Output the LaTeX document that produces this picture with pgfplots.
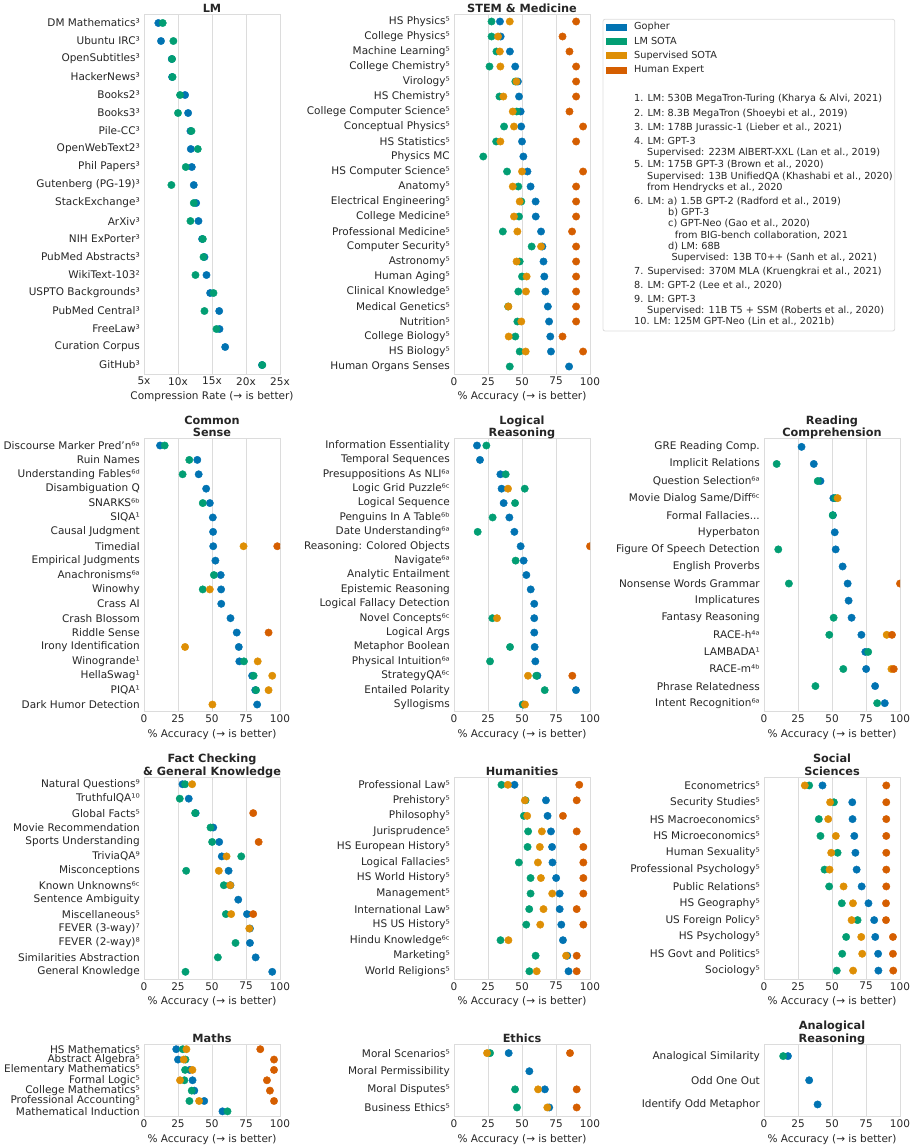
\documentclass[border=0pt]{standalone}
\usepackage{fontspec}
\setmainfont{DejaVu Sans}
\usepackage{pgfplots}
\usepackage{pgfplotstable}
\pgfplotsset{compat=1.18}
\definecolor{cg}{HTML}{0173B2}
\definecolor{cl}{HTML}{029E73}
\definecolor{cs}{HTML}{DE8F05}
\definecolor{ch}{HTML}{D55E00}
\definecolor{framec}{HTML}{DCDCDC}
\definecolor{txt}{HTML}{262626}
\newcommand\tfont{\fontsize{10.5bp}{12.6bp}\selectfont}
\newcommand\ttlfont{\bfseries\fontsize{11.3bp}{12.2bp}\selectfont}
\newcommand\lgfont{\fontsize{9.7bp}{11.4bp}\selectfont}

\pgfplotsset{
 dg/.style={only marks, mark=*, mark size=3.7bp, mark options={draw=cg, fill=cg}},
 dl/.style={only marks, mark=*, mark size=3.7bp, mark options={draw=cl, fill=cl}},
 ds/.style={only marks, mark=*, mark size=3.7bp, mark options={draw=cs, fill=cs}},
 dh/.style={only marks, mark=*, mark size=3.7bp, mark options={draw=ch, fill=ch}},
 panel/.style={scale only axis, width=136bp, anchor=south west,
   xmin=0, xmax=100, xtick={0,25,50,75,100},
   xmajorgrids, grid style={draw=framec, line width=0.8bp},
   axis line style={draw=framec, line width=0.8bp},
   major tick length=0pt, y dir=reverse,
   tick label style={font=\tfont, text=txt},
   /pgf/number format/assume math mode=true,
   yticklabel style={inner sep=0pt, xshift=-4bp},
   xticklabel style={inner sep=0pt, yshift=-3bp},
   xlabel={\% Accuracy (→ is better)},
   xlabel style={font=\tfont, text=txt, at={(axis description cs:0.5,0)}, anchor=mid, yshift=-23bp},
   title style={font=\ttlfont, text=txt, at={(0.5,1)}, anchor=south, inner sep=0pt, text depth=0pt, yshift=-4.2bp, align=center},
   clip marker paths=true},
}

\pgfplotstableread{
r g l
0 7.11 7.75
1 7.50 9.32
2 9.08 9.13
3 9.13 9.20
4 11.04 10.30
5 11.49 10.00
6 11.83 11.98
7 11.88 12.91
8 12.03 11.14
9 12.32 9.03
10 12.67 12.32
11 13.01 11.83
12 13.55 13.65
13 13.89 13.75
14 14.19 12.57
15 14.73 15.22
16 16.06 13.89
17 16.10 15.66
18 16.94 nan
19 22.35 22.40
}\tLM

\pgfplotstableread{
r g l s h
0 33.8 27.6 41.0 89.8
1 34.3 27.6 32.4 79.8
2 41.1 31.2 33.7 84.9
3 45.0 26.1 34.1 89.8
4 47.0 45.1 45.9 89.8
5 47.8 33.4 36.3 89.8
6 49.0 46.1 43.2 84.9
7 49.4 36.8 44.1 94.9
8 50.0 31.0 34.1 89.8
9 51.0 21.5 nan nan
10 54.0 39.0 50.0 94.9
11 56.3 47.3 43.2 89.8
12 60.0 49.5 48.3 89.8
13 60.1 47.8 44.1 89.8
14 64.0 35.9 46.6 86.8
15 65.0 57.1 64.0 89.8
16 65.8 48.3 46.0 89.8
17 66.4 50.0 53.4 89.8
18 67.2 47.3 52.9 89.8
19 69.0 39.8 40.0 89.8
20 69.9 46.6 49.5 89.8
21 70.8 45.1 40.2 79.8
22 71.3 48.3 52.7 94.9
23 84.6 41.0 nan nan
}\tSTEM

\pgfplotstableread{
r g l s h
0 11.8 15.2 nan nan
1 39.2 33.3 nan nan
2 40.2 28.4 nan nan
3 45.7 nan nan nan
4 48.4 43.2 nan nan
5 50.6 nan nan nan
6 50.8 nan nan nan
7 50.9 nan 73.2 98.0
8 52.5 nan nan nan
9 56.4 51.4 nan nan
10 56.7 43.2 48.4 nan
11 56.8 nan nan nan
12 63.6 nan nan nan
13 68.2 nan nan 91.6
14 69.7 nan 30.2 nan
15 70.1 73.5 83.6 nan
16 79.5 80.6 94.3 nan
17 81.8 82.4 91.6 nan
18 83.2 nan 50.3 nan
}\tCS

\pgfplotstableread{
r g l s h
0 16.9 23.8 nan nan
1 19.1 nan nan nan
2 34.1 38.0 nan nan
3 35.0 52.0 39.7 nan
4 36.5 44.9 nan nan
5 40.7 28.4 nan nan
6 44.4 17.4 nan nan
7 49.0 nan nan 100
8 51.2 45.3 nan nan
9 53.2 nan nan nan
10 56.4 nan nan nan
11 59.0 nan nan nan
12 59.0 28.2 31.6 nan
13 59.0 nan nan nan
14 59.3 41.2 nan nan
15 59.8 26.5 nan nan
16 61.3 60.5 54.4 87.0
17 89.7 66.7 nan nan
18 50.5 51.0 52.2 nan
}\tLR

\pgfplotstableread{
r g l s h
0 27.6 nan nan nan
1 36.6 9.3 nan nan
2 41.5 39.5 nan nan
3 51.0 52.4 54.1 nan
4 50.7 50.5 nan nan
5 52.0 nan nan nan
6 52.7 10.5 nan nan
7 57.8 nan nan nan
8 61.5 18.3 nan 100
9 62.2 nan nan nan
10 64.4 51.2 nan nan
11 71.6 48.0 90.2 94.1
12 74.5 76.6 nan nan
13 75.1 58.3 93.7 95.4
14 81.7 37.8 nan nan
15 88.8 83.2 nan nan
}\tRC

\pgfplotstableread{
r g l s h
0 28.3 30.2 35.4 nan
1 32.9 26.3 nan nan
2 38.0 37.6 nan 80.3
3 50.9 48.9 nan nan
4 55.3 50.1 nan 84.3
5 57.2 71.5 60.7 nan
6 62.2 31.0 55.0 nan
7 63.6 58.7 63.4 nan
8 69.3 nan nan nan
9 75.7 60.2 64.1 80.3
10 77.9 nan 77.4 nan
11 77.9 67.3 nan nan
12 82.1 54.3 nan nan
13 94.3 30.5 nan nan
}\tFC

\pgfplotstableread{
r g l s h
0 44.5 34.9 39.6 92.1
1 67.6 52.6 52.1 90.2
2 68.8 51.4 53.8 80.1
3 71.3 54.5 64.6 90.2
4 72.1 54.1 63.1 95.1
5 72.4 47.7 61.7 95.1
6 75.1 56.3 63.9 95.1
7 77.7 56.3 72.2 95.1
8 77.7 55.3 65.8 90.2
9 78.9 53.1 63.4 95.1
10 80.1 34.2 40.0 nan
11 83.3 60.0 82.4 90.2
12 84.2 55.4 60.8 90.2
}\tHU

\pgfplotstableread{
r g l s h
0 43.0 33.2 30.0 89.9
1 64.9 51.4 48.6 89.9
2 65.1 40.3 47.2 89.9
3 66.4 41.5 52.8 89.9
4 67.2 54.1 49.4 89.9
5 68.1 44.5 48.2 89.9
6 71.8 47.9 58.5 89.9
7 76.8 57.2 65.4 89.7
8 81.0 68.8 64.4 89.7
9 81.8 60.4 71.5 94.8
10 83.9 57.5 72.2 94.8
11 84.1 53.5 65.5 95.0
}\tSS

\pgfplotstableread{
r g l s h
0 23.7 28.5 31.2 85.5
1 25.0 30.5 29.2 95.6
2 33.6 30.2 35.6 95.6
3 35.7 29.7 26.5 90.4
4 37.0 35.1 nan 92.6
5 44.3 33.4 40.5 95.6
6 57.7 61.4 nan nan
}\tMA

\pgfplotstableread{
r g l s h
0 40.2 26.5 24.3 85.3
1 55.4 nan nan nan
2 66.8 44.9 61.8 90.2
3 70.0 46.3 68.6 90.2
}\tET

\pgfplotstableread{
r g l
0 17.6 14.1
1 33.2 nan
2 39.4 nan
}\tAR

\begin{document}
\begin{tikzpicture}[x=1bp,y=1bp]

% ---------- LM ----------
\begin{axis}[panel, at={(144bp,-374bp)}, height=360bp, title={LM},
  xmin=5, xmax=25, xtick={5,10,15,20,25}, xticklabels={5x,10x,15x,20x,25x},
  xlabel={Compression Rate (→ is better)},
  ymin=-0.5, ymax=19.5, ytick={0,...,19},
  yticklabels={DM Mathematics³,Ubuntu IRC³,OpenSubtitles³,HackerNews³,Books2³,Books3³,Pile-CC³,OpenWebText2³,Phil Papers³,Gutenberg (PG-19)³,StackExchange³,ArXiv³,NIH ExPorter³,PubMed Abstracts³,WikiText-103²,USPTO Backgrounds³,PubMed Central³,FreeLaw³,Curation Corpus,GitHub³}]
\addplot[dg] table[x=g,y=r]{\tLM};
\addplot[dl] table[x=l,y=r]{\tLM};
\end{axis}

% ---------- STEM ----------
\begin{axis}[panel, at={(454bp,-374bp)}, height=360bp, title={STEM \& Medicine},
  ymin=-0.5, ymax=23.5, ytick={0,...,23},
  yticklabels={HS Physics⁵,College Physics⁵,Machine Learning⁵,College Chemistry⁵,Virology⁵,HS Chemistry⁵,College Computer Science⁵,Conceptual Physics⁵,HS Statistics⁵,Physics MC,HS Computer Science⁵,Anatomy⁵,Electrical Engineering⁵,College Medicine⁵,Professional Medicine⁵,Computer Security⁵,Astronomy⁵,Human Aging⁵,Clinical Knowledge⁵,Medical Genetics⁵,Nutrition⁵,College Biology⁵,HS Biology⁵,Human Organs Senses}]
\addplot[dg] table[x=g,y=r]{\tSTEM};
\addplot[dl] table[x=l,y=r]{\tSTEM};
\addplot[ds] table[x=s,y=r]{\tSTEM};
\addplot[dh] table[x=h,y=r]{\tSTEM};
\end{axis}

% ---------- Common Sense ----------
\begin{axis}[panel, at={(144bp,-711.7bp)}, height=273.4bp, title={Common\\Sense},
  ymin=-0.5, ymax=18.5, ytick={0,...,18},
  yticklabels={Discourse Marker Pred'n⁶ᵃ,Ruin Names,Understanding Fables⁶ᵈ,Disambiguation Q,SNARKS⁶ᵇ,SIQA¹,Causal Judgment,Timedial,Empirical Judgments,Anachronisms⁶ᵃ,Winowhy,Crass AI,Crash Blossom,Riddle Sense,Irony Identification,Winogrande¹,HellaSwag¹,PIQA¹,Dark Humor Detection}]
\addplot[dg] table[x=g,y=r]{\tCS};
\addplot[dl] table[x=l,y=r]{\tCS};
\addplot[ds] table[x=s,y=r]{\tCS};
\addplot[dh] table[x=h,y=r]{\tCS};
\end{axis}

% ---------- Logical Reasoning ----------
\begin{axis}[panel, at={(454bp,-711.7bp)}, height=273.4bp, title={Logical\\Reasoning},
  ymin=-0.5, ymax=18.5, ytick={0,...,18},
  yticklabels={Information Essentiality,Temporal Sequences,Presuppositions As NLI⁶ᵃ,Logic Grid Puzzle⁶ᶜ,Logical Sequence,Penguins In A Table⁶ᵇ,Date Understanding⁶ᵃ,Reasoning: Colored Objects,Navigate⁶ᵃ,Analytic Entailment,Epistemic Reasoning,Logical Fallacy Detection,Novel Concepts⁶ᶜ,Logical Args,Metaphor Boolean,Physical Intuition⁶ᵃ,StrategyQA⁶ᶜ,Entailed Polarity,Syllogisms}]
\addplot[dg] table[x=g,y=r]{\tLR};
\addplot[dl] table[x=l,y=r]{\tLR};
\addplot[ds] table[x=s,y=r]{\tLR};
\addplot[dh] table[x=h,y=r]{\tLR};
\end{axis}

% ---------- Reading Comprehension ----------
\begin{axis}[panel, at={(764bp,-711.7bp)}, height=273.4bp, title={Reading\\Comprehension},
  ymin=-0.5, ymax=15.5, ytick={0,...,15},
  yticklabels={GRE Reading Comp.,Implicit Relations,Question Selection⁶ᵃ,Movie Dialog Same/Diff⁶ᶜ,{Formal Fallacies..{}.},Hyperbaton,Figure Of Speech Detection,English Proverbs,Nonsense Words Grammar,Implicatures,Fantasy Reasoning,RACE-h⁴ᵃ,LAMBADA¹,RACE-m⁴ᵇ,Phrase Relatedness,Intent Recognition⁶ᵃ}]
\addplot[dg] table[x=g,y=r]{\tRC};
\addplot[dl] table[x=l,y=r]{\tRC};
\addplot[ds] table[x=s,y=r]{\tRC};
\addplot[dh] table[x=h,y=r]{\tRC};
\end{axis}

% ---------- Fact Checking ----------
\begin{axis}[panel, at={(144bp,-979bp)}, height=202bp, title={Fact Checking\\\& General Knowledge},
  ymin=-0.5, ymax=13.5, ytick={0,...,13},
  yticklabels={Natural Questions⁹,TruthfulQA¹⁰,Global Facts⁵,Movie Recommendation,Sports Understanding,TriviaQA⁹,Misconceptions,Known Unknowns⁶ᶜ,Sentence Ambiguity,Miscellaneous⁵,FEVER (3-way)⁷,FEVER (2-way)⁸,Similarities Abstraction,General Knowledge}]
\addplot[dg] table[x=g,y=r]{\tFC};
\addplot[dl] table[x=l,y=r]{\tFC};
\addplot[ds] table[x=s,y=r]{\tFC};
\addplot[dh] table[x=h,y=r]{\tFC};
\end{axis}

% ---------- Humanities ----------
\begin{axis}[panel, at={(454bp,-979bp)}, height=202bp, title={Humanities},
  ymin=-0.5, ymax=12.5, ytick={0,...,12},
  yticklabels={Professional Law⁵,Prehistory⁵,Philosophy⁵,Jurisprudence⁵,HS European History⁵,Logical Fallacies⁵,HS World History⁵,Management⁵,International Law⁵,HS US History⁵,Hindu Knowledge⁶ᶜ,Marketing⁵,World Religions⁵}]
\addplot[dg] table[x=g,y=r]{\tHU};
\addplot[dl] table[x=l,y=r]{\tHU};
\addplot[ds] table[x=s,y=r]{\tHU};
\addplot[dh] table[x=h,y=r]{\tHU};
\end{axis}

% ---------- Social Sciences ----------
\begin{axis}[panel, at={(764bp,-979bp)}, height=202bp, title={Social\\Sciences},
  ymin=-0.5, ymax=11.5, ytick={0,...,11},
  yticklabels={Econometrics⁵,Security Studies⁵,HS Macroeconomics⁵,HS Microeconomics⁵,Human Sexuality⁵,Professional Psychology⁵,Public Relations⁵,HS Geography⁵,US Foreign Policy⁵,HS Psychology⁵,HS Govt and Politics⁵,Sociology⁵}]
\addplot[dg] table[x=g,y=r]{\tSS};
\addplot[dl] table[x=l,y=r]{\tSS};
\addplot[ds] table[x=s,y=r]{\tSS};
\addplot[dh] table[x=h,y=r]{\tSS};
\end{axis}

% ---------- Maths ----------
\begin{axis}[panel, at={(144bp,-1116.5bp)}, height=72.5bp, title={Maths},
  ymin=-0.5, ymax=6.5, ytick={0,...,6},
  yticklabels={HS Mathematics⁵,Abstract Algebra⁵,Elementary Mathematics⁵,Formal Logic⁵,College Mathematics⁵,Professional Accounting⁵,Mathematical Induction}]
\addplot[dg] table[x=g,y=r]{\tMA};
\addplot[dl] table[x=l,y=r]{\tMA};
\addplot[ds] table[x=s,y=r]{\tMA};
\addplot[dh] table[x=h,y=r]{\tMA};
\end{axis}

% ---------- Ethics ----------
\begin{axis}[panel, at={(454bp,-1116.5bp)}, height=72.5bp, title={Ethics},
  ymin=-0.5, ymax=3.5, ytick={0,...,3},
  yticklabels={Moral Scenarios⁵,Moral Permissibility,Moral Disputes⁵,Business Ethics⁵}]
\addplot[dg] table[x=g,y=r]{\tET};
\addplot[dl] table[x=l,y=r]{\tET};
\addplot[ds] table[x=s,y=r]{\tET};
\addplot[dh] table[x=h,y=r]{\tET};
\end{axis}

% ---------- Analogical ----------
\begin{axis}[panel, at={(764bp,-1116.5bp)}, height=72.5bp, title={Analogical\\Reasoning},
  ymin=-0.5, ymax=2.5, ytick={0,...,2},
  yticklabels={Analogical Similarity,Odd One Out,Identify Odd Metaphor}]
\addplot[dg] table[x=g,y=r]{\tAR};
\addplot[dl] table[x=l,y=r]{\tAR};
\end{axis}

% ---------- Legend ----------
\draw[framec, line width=0.8bp, rounded corners=2bp] (603,-19.3) rectangle (894.7,-331);
\fill[cg] (606,-23.5) rectangle (627,-30.5);
\fill[cl] (606,-37.9) rectangle (627,-44.9);
\fill[cs] (606,-52.3) rectangle (627,-59.3);
\fill[ch] (606,-66.7) rectangle (627,-73.7);
\begin{scope}[every node/.style={anchor=mid west, inner sep=0pt, font=\lgfont, text=txt}]
\node at (634,-27) {Gopher};
\node at (634,-41.4) {LM SOTA};
\node at (634,-55.8) {Supervised SOTA};
\node at (634,-70.2) {Human Expert};
\node at (634,-99) {1. LM: 530B MegaTron-Turing (Kharya \& Alvi, 2021)};
\node at (634,-113.3) {2. LM: 8.3B MegaTron (Shoeybi et al., 2019)};
\node at (634,-127.3) {3. LM: 178B Jurassic-1 (Lieber et al., 2021)};
\node at (634,-141.3) {4. LM: GPT-3};
\node at (647,-152.7) {Supervised: 223M AlBERT-XXL (Lan et al., 2019)};
\node at (634,-164.7) {5. LM: 175B GPT-3 (Brown et al., 2020)};
\node at (647,-176.7) {Supervised: 13B UnifiedQA (Khashabi et al., 2020)};
\node at (647,-188) {from Hendrycks et al., 2020};
\node at (634,-201.3) {6. LM: a) 1.5B GPT-2 (Radford et al., 2019)};
\node at (668,-212.7) {b) GPT-3};
\node at (668,-224) {c) GPT-Neo (Gao et al., 2020)};
\node at (674.7,-235.3) {from BIG-bench collaboration, 2021};
\node at (668,-246.7) {d) LM: 68B};
\node at (671.3,-257.3) {Supervised: 13B T0++ (Sanh et al., 2021)};
\node at (634,-271.7) {7. Supervised: 370M MLA (Kruengkrai et al., 2021)};
\node at (634,-285.7) {8. LM: GPT-2 (Lee et al., 2020)};
\node at (634,-299.7) {9. LM: GPT-3};
\node at (647,-310.7) {Supervised: 11B T5 + SSM (Roberts et al., 2020)};
\node at (634,-321.7) {10. LM: 125M GPT-Neo (Lin et al., 2021b)};
\end{scope}

\pgfresetboundingbox
\path (0,0) rectangle (913,-1146);
\end{tikzpicture}
\end{document}
